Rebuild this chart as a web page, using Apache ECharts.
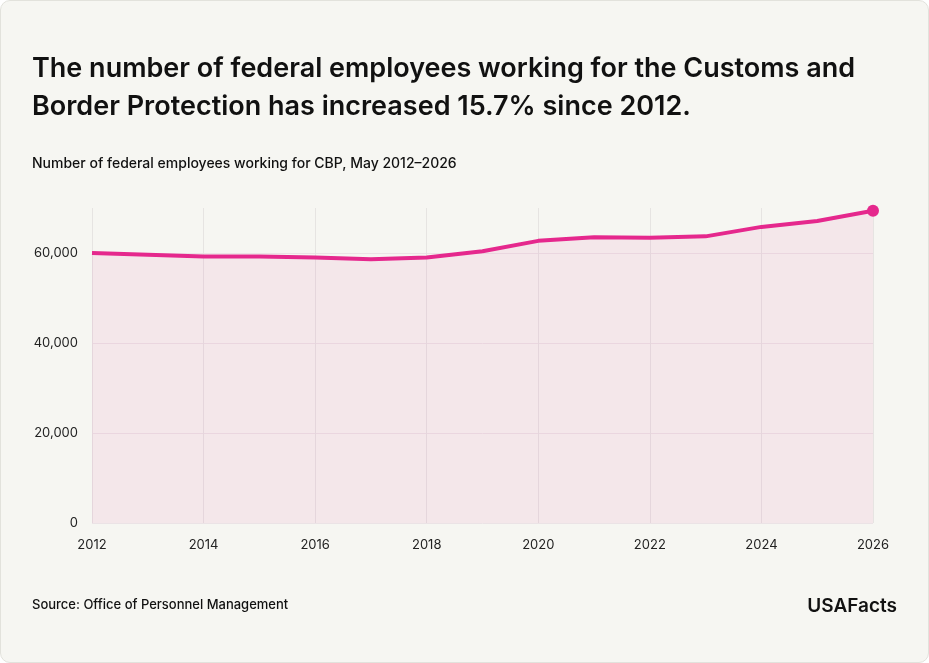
<!DOCTYPE html>
<html><head><meta charset="utf-8">
<script src="https://cdn.jsdelivr.net/npm/echarts@6/dist/echarts.min.js"></script>
<style>
html,body{margin:0;padding:0;background:#fff;}
#card{position:absolute;left:0;top:0;width:927px;height:661px;background:#f6f6f2;border:1px solid #e2e2dc;border-radius:10px;}
#c{position:absolute;left:0;top:0;width:929px;height:663px;}
</style></head><body>
<div id="card"></div>
<div id="c"></div>
<script>
const years = ['2012','2013','2014','2015','2016','2017','2018','2019','2020','2021','2022','2023','2024','2025','2026'];
const employees = [60000,59600,59200,59200,59000,58600,59000,60400,62700,63500,63400,63700,65800,67100,69400];
const yTicks = [0,20000,40000,60000];

const chart = echarts.init(document.getElementById('c'));
const font = 'Inter, "Noto Sans", sans-serif';
chart.setOption({
  backgroundColor: 'transparent',
  title: [
    {text: 'The number of federal employees working for the Customs and\nBorder Protection has increased 15.7% since 2012.', left: 27, top: 45,
     textStyle: {fontFamily: font, fontSize: 27, fontWeight: 600, color: '#111', lineHeight: 38}},
    {text: 'Number of federal employees working for CBP, May 2012–2026', left: 27, top: 152,
     textStyle: {fontFamily: font, fontSize: 14, fontWeight: 500, color: '#111'}},
    {text: 'Source: Office of Personnel Management', left: 27, top: 594,
     textStyle: {fontFamily: font, fontSize: 13, fontWeight: 500, color: '#111'}},
    {text: 'USAFacts', right: 27, top: 592,
     textStyle: {fontFamily: font, fontSize: 19, fontWeight: 600, color: '#111'}}
  ],
  grid: {left: 92, right: 56, top: 208, bottom: 140},
  xAxis: {type: 'category', data: years, boundaryGap: false,
    axisLine: {show: false}, axisTick: {show: false},
    axisLabel: {interval: 1, color: '#222', fontFamily: font, fontSize: 13, margin: 16},
    splitLine: {show: true, interval: 1, lineStyle: {color: '#e6e4e2'}}},
  yAxis: {type: 'value', min: 0, max: 70000, interval: 20000,
    axisLine: {show: false}, axisTick: {show: false},
    axisLabel: {color: '#222', fontFamily: font, fontSize: 13, margin: 14,
      formatter: v => yTicks.includes(v) ? v.toLocaleString('en-US') : ''},
    splitLine: {lineStyle: {color: ['#ebe3e6','#ebe3e6','#ebe3e6','#ebe3e6','rgba(0,0,0,0)']}}},
  series: [{type: 'line', data: employees, smooth: false, symbol: 'circle',
    symbolSize: (v, p) => p.dataIndex === employees.length - 1 ? 12 : 0,
    showSymbol: true,
    itemStyle: {color: '#e5288d'},
    lineStyle: {color: '#e5288d', width: 4},
    areaStyle: {color: 'rgba(229,40,141,0.1)'}}]
});
</script>
</body></html>
